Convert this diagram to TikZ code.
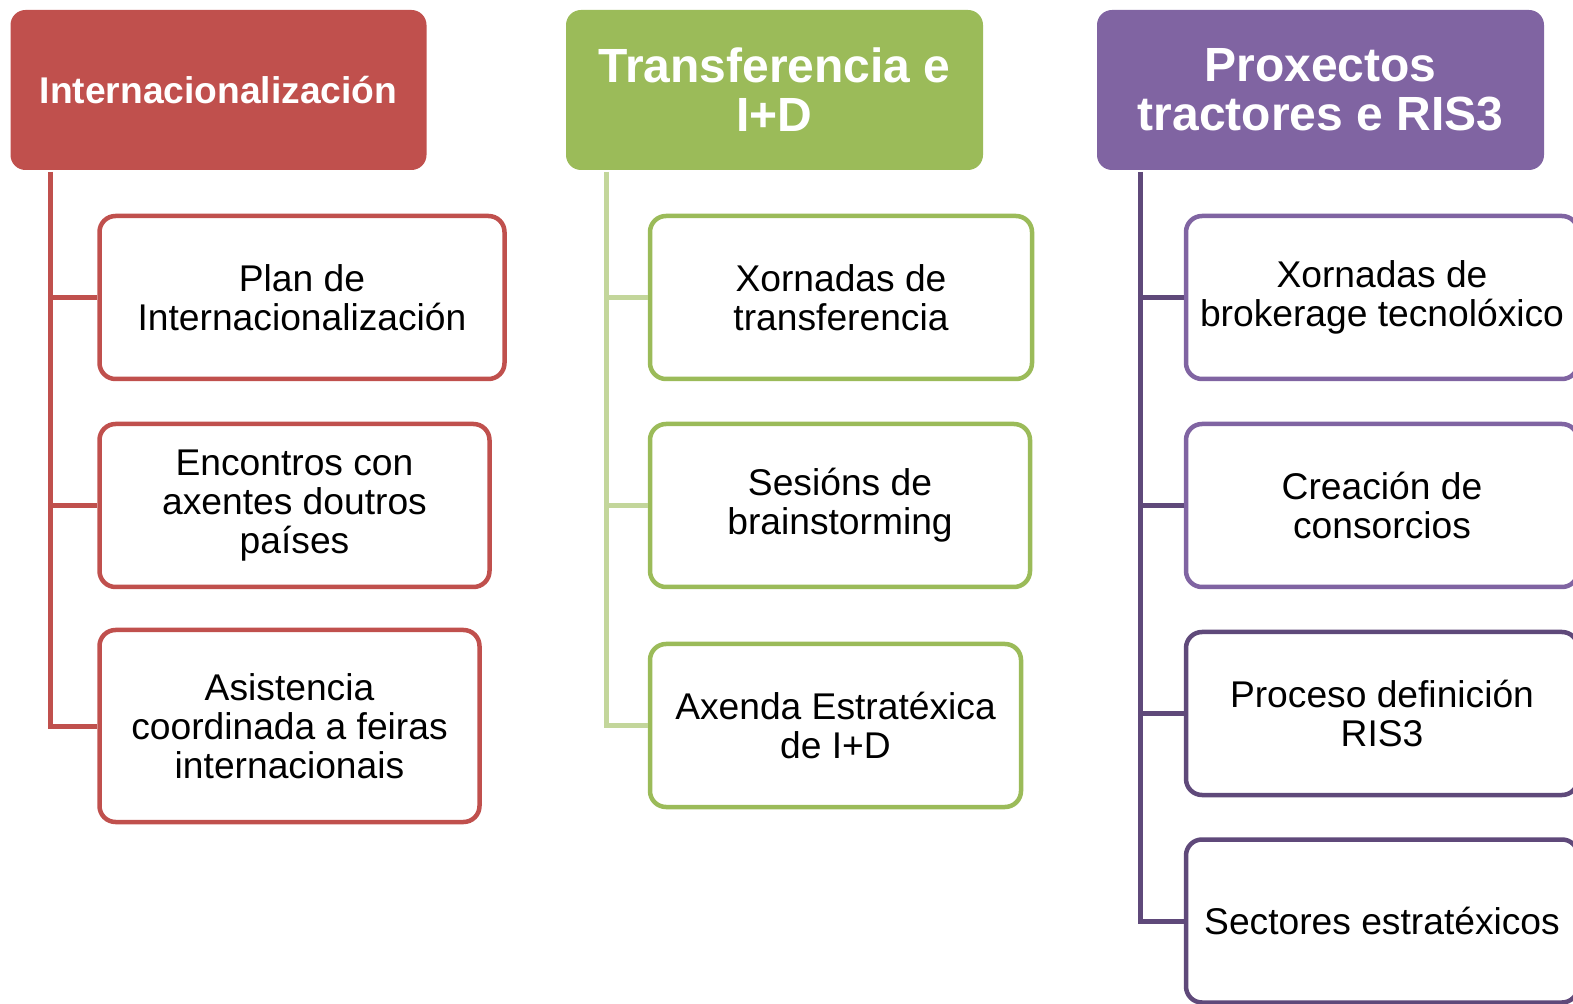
\documentclass[tikz,border=0pt]{standalone}
\usepackage{fontspec}
\setmainfont{Liberation Sans}
\usepackage{xcolor}
\usepackage{tikz}
\usetikzlibrary{positioning}

\definecolor{redM}{HTML}{C0504D}
\definecolor{greenM}{HTML}{9BBB59}
\definecolor{greenL}{HTML}{C3D69B}
\definecolor{purpleM}{HTML}{8064A2}
\definecolor{purpleD}{HTML}{5F497A}

\begin{document}
\begin{tikzpicture}[x=0.5pt, y=-0.5pt,
    head/.style={rounded corners=7.5pt, minimum height=80pt, text=white, align=center, inner sep=0pt},
    item/.style={draw, line width=2.25pt, rounded corners=8pt, fill=white, minimum height=81.5pt,
        align=center, inner sep=0pt, font=\fontsize{18.6}{19.5}\selectfont},
    trunk/.style={line width=2.5pt}]
    \useasboundingbox (0,0) rectangle (1573,1004);
    \clip (0,0) rectangle (1573,1004);

    % Headers
    \node[head, fill=redM, minimum width=208pt, font=\bfseries\fontsize{18.6}{19.5}\selectfont] (h1) at (218.5,90) {Internacionalización};
    \node[head, fill=greenM, minimum width=208.5pt, font=\bfseries\fontsize{24}{24.5}\selectfont] (h2) at (774.5,90) {Transferencia e\\I+D};
    \node[head, fill=purpleM, minimum width=223.5pt, font=\bfseries\fontsize{24}{24.5}\selectfont] (h3) at (1320.5,90) {Proxectos\\tractores e RIS3};

    % Internacionalización
    \foreach \cx/\cy/\w/\h/\t [count=\i] in {302/297.5/202.5/81.5/{Plan de\\Internacionalización},
        294.5/505.5/195/81.5/{Encontros con\\axentes doutros\\países},
        289.5/726/190/96/{Asistencia\\coordinada a feiras\\internacionais}} {
        \node[item, draw=redM, minimum width=\w pt, minimum height=\h pt] (r\i) at (\cx,\cy) {\t};
    }
    % Transferencia
    \foreach \cx/\cy/\w/\t [count=\i] in {841/297.5/191/{Xornadas de\\transferencia},
        840/505.5/190/{Sesións de\\brainstorming},
        835.5/725.5/185.5/{Axenda Estratéxica\\de I+D}} {
        \node[item, draw=greenM, minimum width=\w pt] (g\i) at (\cx,\cy) {\t};
    }
    % Proxectos
    \foreach \cy/\c/\t [count=\i] in {297.5/purpleM/{Xornadas de\\brokerage tecnolóxico},
        505.5/purpleM/{Creación de\\consorcios},
        713.5/purpleD/{Proceso definición\\RIS3},
        921/purpleD/{Sectores estratéxicos}} {
        \node[item, draw=\c, minimum width=196pt] (p\i) at (1382,\cy) {\t};
    }

    % Trunks
    \coordinate (rt) at (50,172);
    \coordinate (gt) at (606,172);
    \coordinate (pt) at (1140,172);
    \draw[trunk, redM] (rt) |- (r3.west);
    \draw[trunk, greenL] (gt) |- (g3.west);
    \draw[trunk, purpleD] (pt) |- (p4.west);
    \foreach \i in {1,2} {
        \draw[trunk, redM] (r\i.west -| rt) -- (r\i.west);
        \draw[trunk, greenL] (g\i.west -| gt) -- (g\i.west);
    }
    \foreach \i in {1,2,3}
        \draw[trunk, purpleD] (p\i.west -| pt) -- (p\i.west);
\end{tikzpicture}
\end{document}
